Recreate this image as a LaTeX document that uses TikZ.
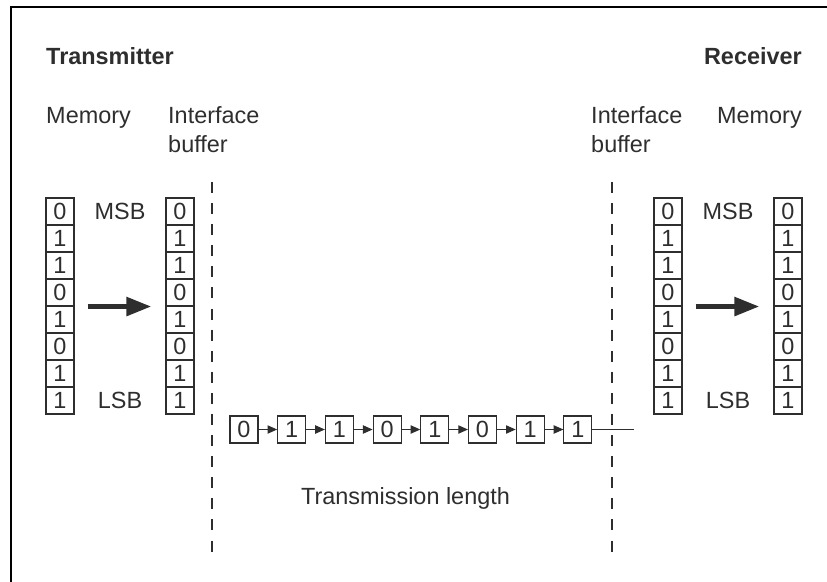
\documentclass[tikz,border=0pt]{standalone}
\usepackage{fontspec}
\setmainfont{Liberation Sans}
\usepackage{tikz}
\usetikzlibrary{arrows.meta,positioning,calc}
\definecolor{ink}{HTML}{2E2E2E}
\tikzset{cell/.style={draw=ink,line width=0.9pt,minimum width=0.84cm,minimum height=0.81cm,
 inner sep=0pt,text=ink,font=\fontsize{20}{24}\selectfont},
 lbl/.style={text=ink,inner sep=0pt,align=left,font=\fontsize{20}{24.7}\selectfont},
 ttl/.style={lbl,font=\fontsize{20}{24.7}\selectfont\bfseries},
 bigarr/.style={-{Triangle[length=7.5mm,width=5.4mm]},line width=4.5pt,draw=ink},
 arr/.style={-{Triangle[length=2.9mm,width=2.5mm]},line width=0.9pt,draw=ink},
 wallline/.style={draw=ink,line width=1pt,dash pattern=on 9.4pt off 8.6pt}}
\begin{document}
\begin{tikzpicture}[x=0.03cm,y=-0.03cm]
\useasboundingbox (0,0) rectangle (827,582);
\draw[line width=1.7pt] (11,582)--(11,7)--(827,7);
\node[ttl,anchor=base west] (tx) at (46,64) {Transmitter};
\node[ttl,anchor=base east] (rx) at (802,64) {Receiver};
\node[lbl,anchor=base west] (tmem) at (46,123) {Memory};
\node[lbl,anchor=base west] (tbuf) at (168,152) {Interface\\buffer};
\node[lbl,anchor=base west] (rbuf) at (591,152) {Interface\\buffer};
\node[lbl,anchor=base east] (rmem) at (802,123) {Memory};
\foreach \b [count=\i] in {0,1,1,0,1,0,1,1}{
 \node[cell] (tm\i) at (60,184.5+27*\i) {\b};
 \node[cell] (tb\i) at (180,184.5+27*\i) {\b};
 \node[cell] (rb\i) at (668,184.5+27*\i) {\b};
 \node[cell] (rm\i) at (788,184.5+27*\i) {\b};
 \node[cell] (c\i) at (196.3+47.7*\i,429.5) {\b};
}
\node[lbl] (tmsb) at ($(tm1)!0.5!(tb1)$) {MSB};
\node[lbl] (tlsb) at ($(tm8)!0.5!(tb8)$) {LSB};
\node[lbl] (rmsb) at ($(rb1)!0.5!(rm1)$) {MSB};
\node[lbl] (rlsb) at ($(rb8)!0.5!(rm8)$) {LSB};
\draw[bigarr,shorten <=0.39cm,shorten >=0.42cm] (tm4.south east)--(tb4.south west);
\draw[bigarr,shorten <=0.39cm,shorten >=0.42cm] (rb4.south east)--(rm4.south west);
\foreach \i [remember=\i as \p (initially 1)] in {2,...,8}
 \draw[arr] (c\p)--(c\i);
\coordinate (tail) at (634,429.5);
\draw[draw=ink,line width=0.9pt] (c8)--(tail);
\coordinate (ltop) at (212,182);
\coordinate (lbot) at (212,553);
\coordinate (rtop) at (612,182);
\coordinate (rbot) at (612,553);
\draw[wallline] (ltop)--(lbot);
\draw[wallline] (rtop)--(rbot);
\node[lbl,anchor=base] (tlen) at (405.5,504) {Transmission length};
\end{tikzpicture}
\end{document}
